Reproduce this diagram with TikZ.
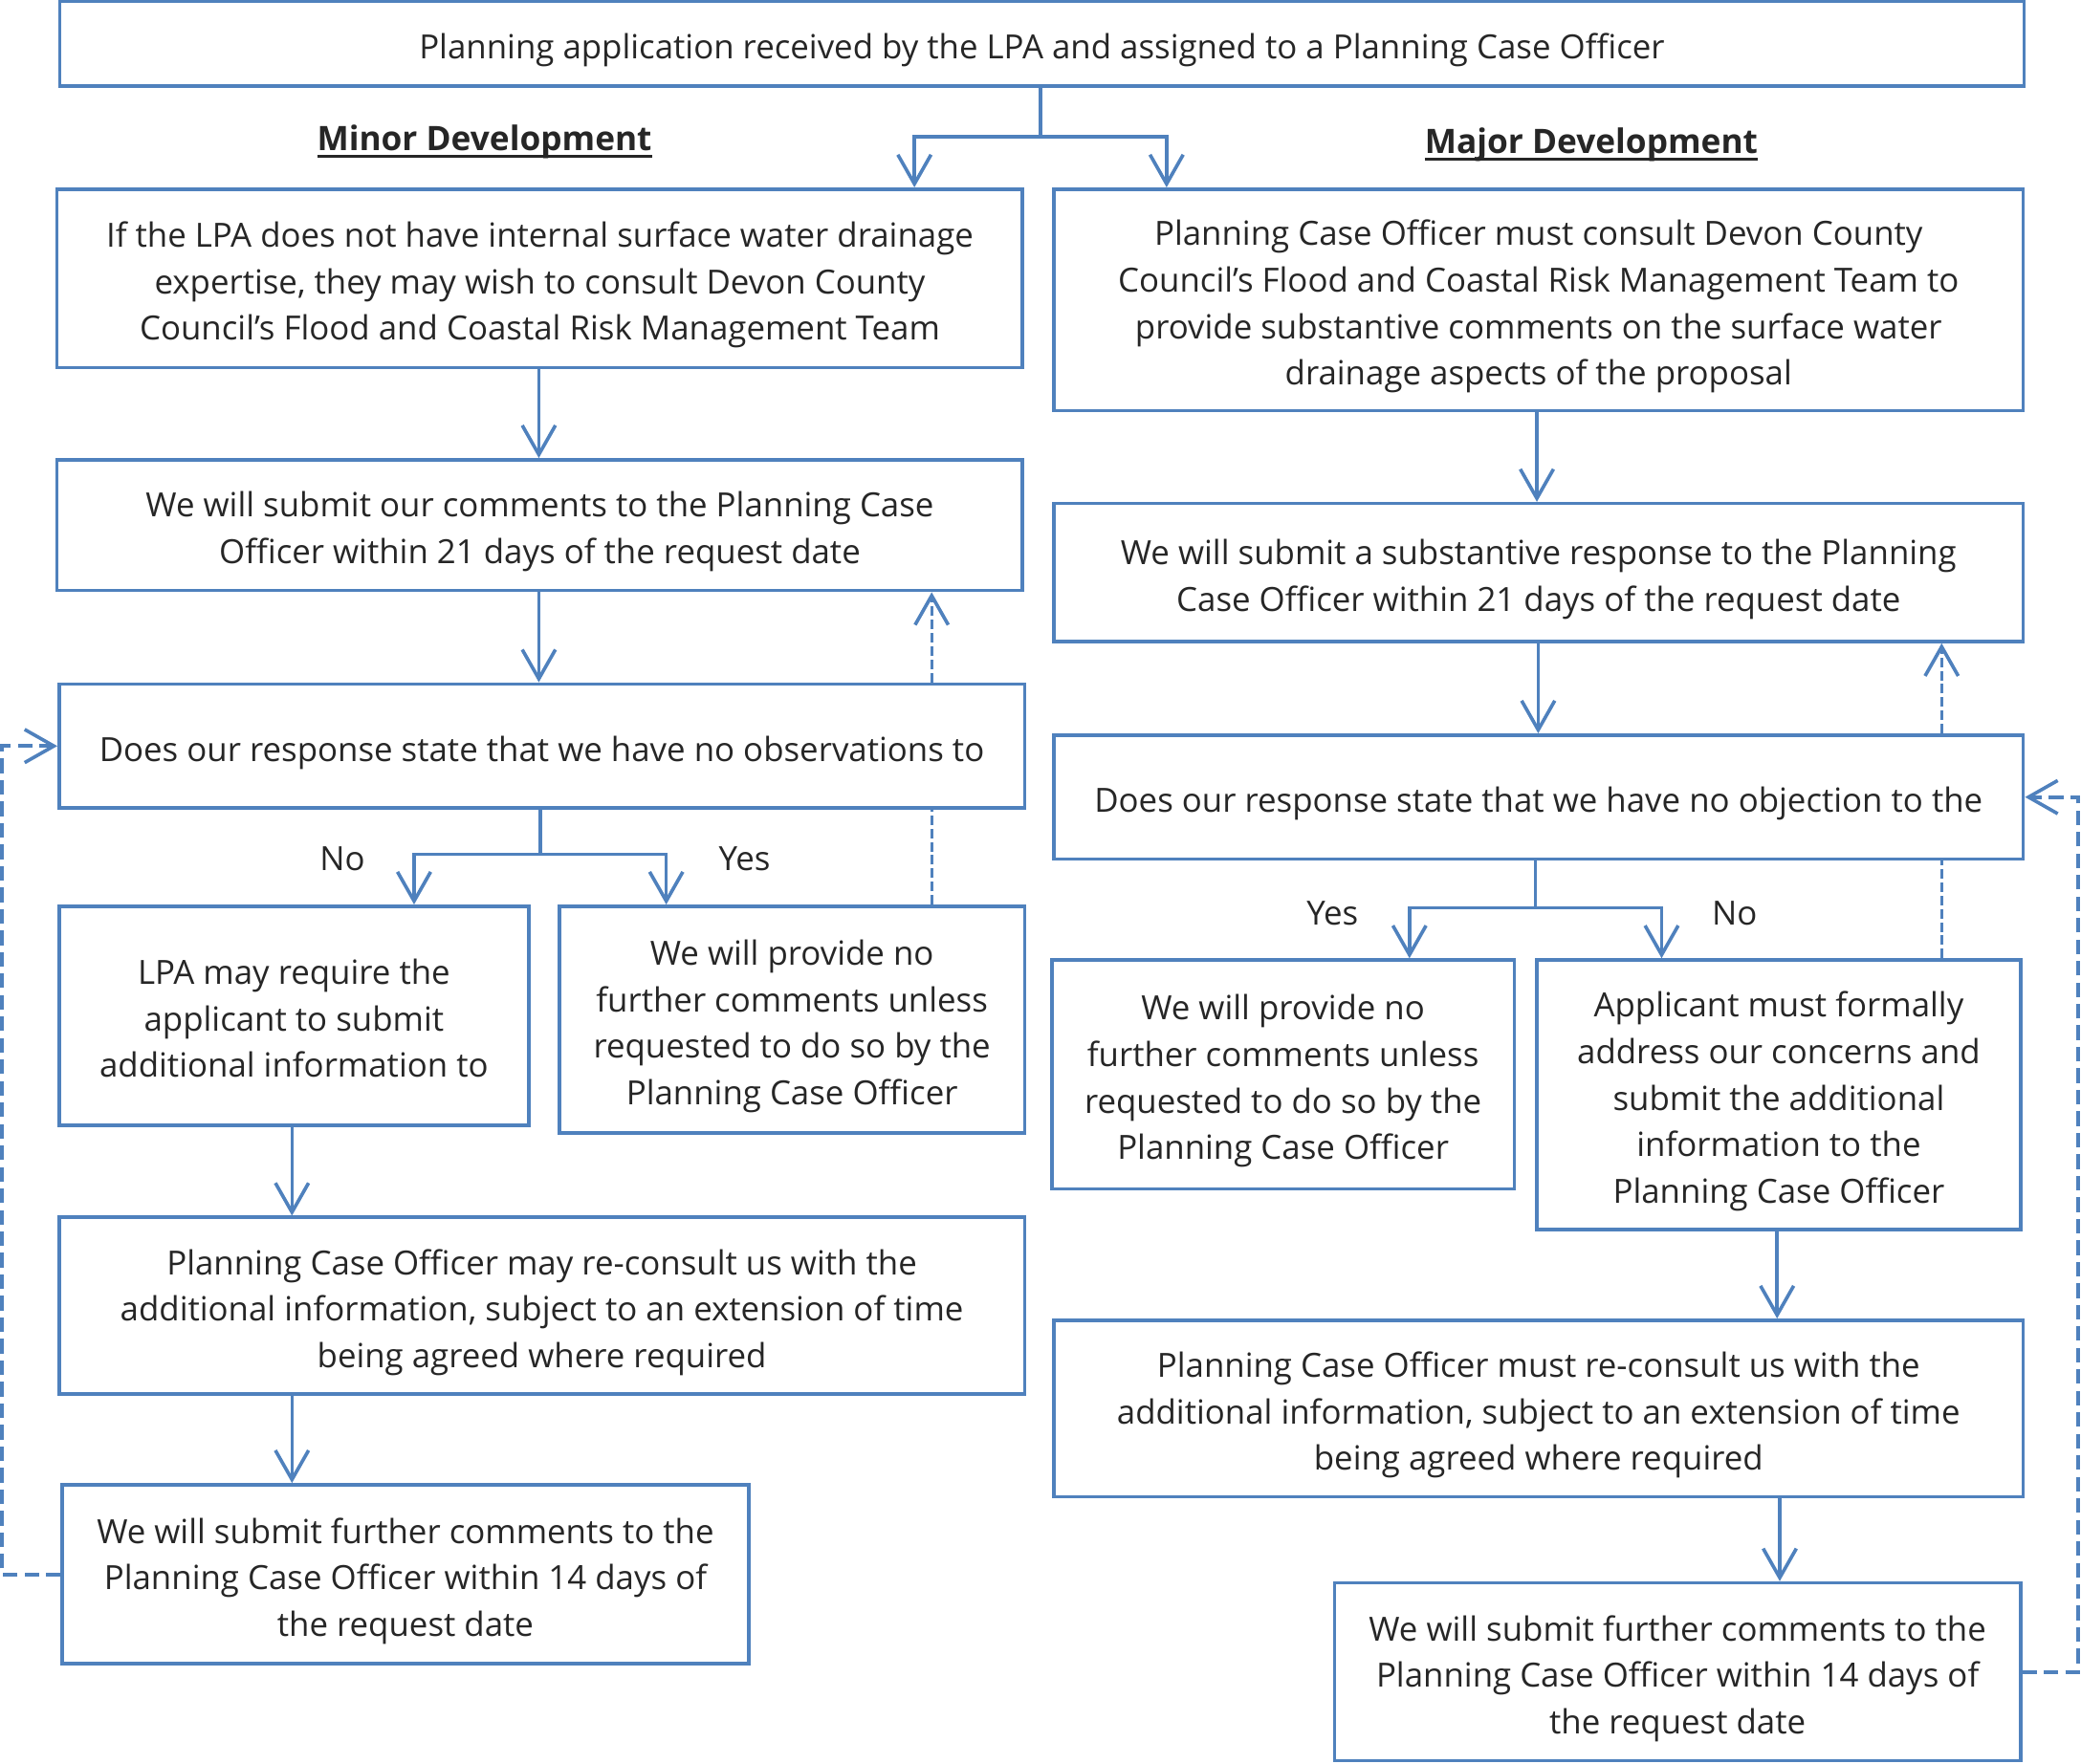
\documentclass[tikz,border=0pt]{standalone}
\usepackage{fontspec}
\setmainfont{Open Sans}
\usetikzlibrary{arrows.meta}
\definecolor{bl}{HTML}{4F81BD}
\definecolor{tx}{HTML}{262626}
\newcommand{\thickul}[1]{\setbox0=\hbox{#1}\leavevmode\rlap{\raisebox{-2.6pt}{\rule{\wd0}{1.1pt}}}\box0}
\begin{document}
\begin{tikzpicture}[x=0.5pt,y=-0.5pt,
  box/.style={draw=bl, line width=1.3pt, fill=white, inner sep=0pt},
  txt/.style={align=center, text=tx, inner sep=0pt, font=\fontsize{12.55pt}{17.5pt}\selectfont},
  lbl/.style={text=tx, inner sep=0pt, font=\fontsize{12.55pt}{17.5pt}\selectfont},
  hd/.style={text=tx, inner sep=0pt, font=\fontsize{12.7pt}{17.5pt}\selectfont\bfseries},
  conn/.style={draw=bl, line width=1.25pt},
  tip/.style={-{Straight Barb[length=11pt,width=12.5pt,line width=1.3pt]}},
  arr/.style={conn, tip},
  dsh/.style={draw=bl, line width=1.2pt, dash pattern=on 3.6pt off 1.4pt},
  loop/.style={draw=bl, line width=1.45pt, dash pattern=on 5.5pt off 2.6pt, tip}
]
\useasboundingbox (0,0) rectangle (1568,1329);

% top
\node[box, minimum width=740pt, minimum height=32pt] (T) at (785,33) {};
\node[txt] (Tt) at ([yshift=-2.5pt]T.center)
  {Planning application received by the LPA and assigned to a Planning Case Officer};

\node[hd] (hmin) at (365,107) {\thickul{Minor Development}};
\node[hd] (hmaj) at (1199,109) {\thickul{Major Development}};

% left column
\node[box, minimum width=363.75pt, minimum height=67.25pt] (B1) at (406.75,209.75) {};
\node[txt] (B1t) at ([yshift=-2.5pt]B1.center)
  {If the LPA does not have internal surface water drainage\\expertise, they may wish to consult Devon County\\Council’s Flood and Coastal Risk Management Team};
\node[box, minimum width=363.75pt, minimum height=49.25pt] (B2) at (406.75,395.75) {};
\node[txt] (B2t) at ([yshift=-2.5pt]B2.center)
  {We will submit our comments to the Planning Case\\Officer within 21 days of the request date};
\node[box, minimum width=363.75pt, minimum height=46.75pt] (B3) at (408.25,562.25) {};
\node[txt] (B3t) at ([yshift=-2.5pt]B3.center)
  {Does our response state that we have no observations to};
\node[box, minimum width=177pt, minimum height=82.5pt] (B4) at (221.5,765.5) {};
\node[txt] (B4t) at ([yshift=-1pt]B4.center)
  {LPA may require the\\applicant to submit\\additional information to};
\node[box, minimum width=175.25pt, minimum height=85.5pt] (B5) at (596.75,768.5) {};
\node[txt] (B5t) at ([yshift=-2.5pt]B5.center)
  {We will provide no\\further comments unless\\requested to do so by the\\Planning Case Officer};
\node[box, minimum width=363.75pt, minimum height=66.5pt] (B6) at (408.25,984) {};
\node[txt] (B6t) at ([yshift=-2.5pt]B6.center)
  {Planning Case Officer may re-consult us with the\\additional information, subject to an extension of time\\being agreed where required};
\node[box, minimum width=258.5pt, minimum height=67.5pt] (B7) at (305.5,1186.5) {};
\node[txt] (B7t) at ([yshift=-2.5pt]B7.center)
  {We will submit further comments to the\\Planning Case Officer within 14 days of\\the request date};

% right column
\node[box, minimum width=365.25pt, minimum height=83.5pt] (C1) at (1159.25,226) {};
\node[txt] (C1t) at ([yshift=-2.5pt]C1.center)
  {Planning Case Officer must consult Devon County\\Council’s Flood and Coastal Risk Management Team to\\provide substantive comments on the surface water\\drainage aspects of the proposal};
\node[box, minimum width=365.25pt, minimum height=52pt] (C2) at (1159.25,431.5) {};
\node[txt] (C2t) at ([yshift=-2.5pt]C2.center)
  {We will submit a substantive response to the Planning\\Case Officer within 21 days of the request date};
\node[box, minimum width=365.25pt, minimum height=46.75pt] (C3) at (1159.25,600.75) {};
\node[txt] (C3t) at ([yshift=-2.5pt]C3.center)
  {Does our response state that we have no objection to the};
\node[box, minimum width=174.25pt, minimum height=86.25pt] (C4) at (966.75,809.75) {};
\node[txt] (C4t) at ([yshift=-2.5pt]C4.center)
  {We will provide no\\further comments unless\\requested to do so by the\\Planning Case Officer};
\node[box, minimum width=182.25pt, minimum height=101.5pt] (C5) at (1340.25,825) {};
\node[txt] (C5t) at ([yshift=-2.5pt]C5.center)
  {Applicant must formally\\address our concerns and\\submit the additional\\information to the\\Planning Case Officer};
\node[box, minimum width=365.25pt, minimum height=66.5pt] (C6) at (1159.25,1061.5) {};
\node[txt] (C6t) at ([yshift=-2.5pt]C6.center)
  {Planning Case Officer must re-consult us with the\\additional information, subject to an extension of time\\being agreed where required};
\node[box, minimum width=258.5pt, minimum height=67pt] (C7) at (1264,1260) {};
\node[txt] (C7t) at ([yshift=-2.5pt]C7.center)
  {We will submit further comments to the\\Planning Case Officer within 14 days of\\the request date};

% branch labels
\node[lbl] (lno) at (258,647) {No};
\node[lbl] (lyes) at (561,647) {Yes};
\node[lbl] (ryes) at (1004,688) {Yes};
\node[lbl] (rno) at (1307,688) {No};

% top split
\coordinate (j0) at (784,103);
\draw[conn] (784,0 |- T.south) -- (j0);
\draw[arr] (j0) -- (689,103) -- (689,0 |- B1.north);
\draw[arr] (j0) -- (879,103) -- (879,0 |- C1.north);

% left flow
\draw[arr] (406,0 |- B1.south) -- (406,0 |- B2.north);
\draw[arr] (406,0 |- B2.south) -- (406,0 |- B3.north);
\coordinate (j1) at (407,644);
\draw[conn] (407,0 |- B3.south) -- (j1);
\draw[arr] (j1) -- (312,644) -- (312,0 |- B4.north);
\draw[arr] (j1) -- (502,644) -- (502,0 |- B5.north);
\draw[arr] (220,0 |- B4.south) -- (220,0 |- B6.north);
\draw[arr] (220,0 |- B6.south) -- (220,0 |- B7.north);
\draw[dsh] (702,0 |- B5.north) -- (702,0 |- B3.south);
\draw[dsh, tip] (702,0 |- B3.north) -- (702,0 |- B2.south);
\draw[loop] (B7.west) -- (1.5,0 |- B7.west) -- (1.5,0 |- B3.west) -- (B3.west);

% right flow
\draw[arr] (1158,0 |- C1.south) -- (1158,0 |- C2.north);
\draw[arr] (1159,0 |- C2.south) -- (1159,0 |- C3.north);
\coordinate (j2) at (1157,684);
\draw[conn] (1157,0 |- C3.south) -- (j2);
\draw[arr] (j2) -- (1062,684) -- (1062,0 |- C4.north);
\draw[arr] (j2) -- (1252,684) -- (1252,0 |- C5.north);
\draw[arr] (1339,0 |- C5.south) -- (1339,0 |- C6.north);
\draw[arr] (1341,0 |- C6.south) -- (1341,0 |- C7.north);
\draw[dsh] (1463,0 |- C5.north) -- (1463,0 |- C3.south);
\draw[dsh, tip] (1463,0 |- C3.north) -- (1463,0 |- C2.south);
\draw[loop] (C7.east) -- (1566,0 |- C7.east) -- (1566,0 |- C3.east) -- (C3.east);
\end{tikzpicture}
\end{document}
